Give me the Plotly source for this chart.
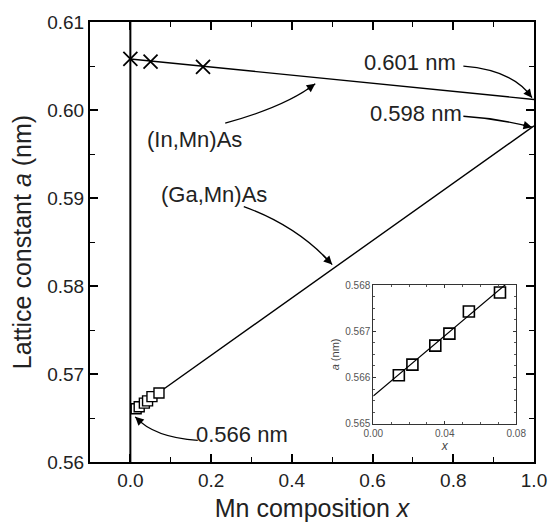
import plotly.graph_objects as go

# ---- data ----
in_x = [0.0, 0.05, 0.18]
in_y = [0.6058, 0.6055, 0.6049]
in_fit_x = [0.0, 1.0]
in_fit_y = [0.6058, 0.6012]

ga_x = [0.0143, 0.0219, 0.0347, 0.0426, 0.0535, 0.0709]
ga_y = [0.56605, 0.56628, 0.56669, 0.56695, 0.56743, 0.56784]
ga_fit_x = [0.0, 1.0]
ga_fit_y = [0.5656, 0.5982]

x_ticks = [0.0, 0.2, 0.4, 0.6, 0.8, 1.0]
y_ticks = [0.56, 0.57, 0.58, 0.59, 0.60, 0.61]
inset_x_ticks = [0.0, 0.04, 0.08]
inset_y_ticks = [0.565, 0.566, 0.567, 0.568]

FONT = "Liberation Sans, Arial, sans-serif"

fig = go.Figure()

# main plot
fig.add_trace(go.Scatter(x=in_fit_x, y=in_fit_y, mode="lines",
                         line=dict(color="black", width=1.4), showlegend=False))
fig.add_trace(go.Scatter(x=ga_fit_x, y=ga_fit_y, mode="lines",
                         line=dict(color="black", width=1.4), showlegend=False))
fig.add_trace(go.Scatter(x=in_x, y=in_y, mode="markers",
                         marker=dict(symbol="x-thin-open", size=14, color="black",
                                     line=dict(color="black", width=1.8)),
                         showlegend=False))
fig.add_trace(go.Scatter(x=ga_x, y=ga_y, mode="markers",
                         marker=dict(symbol="square", size=10, color="white",
                                     line=dict(color="black", width=1.4)),
                         showlegend=False))

# inset
fig.add_trace(go.Scatter(x=ga_fit_x, y=ga_fit_y, mode="lines", xaxis="x2", yaxis="y2",
                         line=dict(color="black", width=1.2), showlegend=False))
fig.add_trace(go.Scatter(x=ga_x, y=ga_y, mode="markers", xaxis="x2", yaxis="y2",
                         marker=dict(symbol="square-open", size=11, color="black",
                                     line=dict(color="black", width=1.6)),
                         showlegend=False))

axis_common = dict(showline=True, linecolor="black", linewidth=2, mirror="ticks",
                   ticks="inside", ticklen=8, tickwidth=1.6, tickcolor="black",
                   showgrid=False, zeroline=False,
                   tickfont=dict(family=FONT, size=19, color="#222"))

fig.update_layout(
    width=559, height=530,
    margin=dict(l=90, r=16, t=17, b=65),
    paper_bgcolor="white", plot_bgcolor="white",
    font=dict(family=FONT, color="#222"),
    xaxis=dict(range=[-0.1, 1.0], tickvals=x_ticks, tickformat=".1f",
               minor=dict(dtick=0.1, ticks="inside", ticklen=5, tickwidth=1.4, tickcolor="black"),
               title=dict(text="Mn composition <i>x</i>", font=dict(family=FONT, size=25, color="#222"),
                          standoff=10),
               **axis_common),
    yaxis=dict(range=[0.56, 0.61], tickvals=y_ticks, tickformat=".2f",
               minor=dict(dtick=0.005, ticks="inside", ticklen=5, tickwidth=1.4, tickcolor="black"),
               title=dict(text="Lattice constant <i>a</i> (nm)", font=dict(family=FONT, size=25, color="#222"),
                          standoff=8),
               **axis_common),
    xaxis2=dict(domain=[0.638, 0.960], anchor="y2", range=[0.0, 0.08],
                tickvals=inset_x_ticks, tickformat=".2f",
                showline=True, linecolor="#333", linewidth=1, mirror="ticks",
                ticks="inside", ticklen=3, tickwidth=1, tickcolor="#333",
                minor=dict(dtick=0.01, ticks="inside", ticklen=2, tickcolor="#555"),
                showgrid=False, zeroline=False,
                tickfont=dict(family=FONT, size=10, color="#555"),
                title=dict(text="<i>x</i>", font=dict(family=FONT, size=12, color="#444"), standoff=0)),
    yaxis2=dict(domain=[0.087, 0.402], anchor="x2", range=[0.565, 0.568],
                tickvals=inset_y_ticks, tickformat=".3f",
                showline=True, linecolor="#333", linewidth=1, mirror="ticks",
                ticks="inside", ticklen=3, tickwidth=1, tickcolor="#333",
                minor=dict(dtick=0.00025, ticks="inside", ticklen=2, tickcolor="#555"),
                showgrid=False, zeroline=False,
                tickfont=dict(family=FONT, size=10, color="#555"),
                title=dict(text="<i>a</i> (nm)", font=dict(family=FONT, size=11, color="#444"), standoff=3)),
)

# vertical line at x = 0
fig.add_shape(type="line", xref="x", yref="y domain", x0=0, x1=0, y0=0, y1=1,
              line=dict(color="black", width=2))

# text labels
labels = [
    ("0.601 nm", 0.692, 0.60542),
    ("0.598 nm", 0.708, 0.59962),
    ("(In,Mn)As", 0.158, 0.59661),
    ("(Ga,Mn)As", 0.206, 0.59036),
    ("0.566 nm", 0.276, 0.56313),
]
for t, lx, ly in labels:
    fig.add_annotation(x=lx, y=ly, xref="x", yref="y", text=t, showarrow=False,
                       font=dict(family=FONT, size=22, color="#222"))

# curved arrows: (start, control, end)
curves = [
    ((0.825, 0.60498), (0.949, 0.60453), (0.995, 0.60140)),
    ((0.825, 0.59929), (0.908, 0.59906), (0.995, 0.59805)),
    ((0.235, 0.59850), (0.386, 0.60040), (0.458, 0.60297)),
    ((0.281, 0.58902), (0.415, 0.58679), (0.500, 0.58243)),
    ((0.167, 0.56246), (0.058, 0.56279), (0.012, 0.56513)),
]
for p0, c, p1 in curves:
    fig.add_shape(type="path", xref="x", yref="y",
                  path=f"M {p0[0]},{p0[1]} Q {c[0]},{c[1]} {p1[0]},{p1[1]}",
                  line=dict(color="black", width=1.3))
    t = 0.85
    bx = (1 - t) ** 2 * p0[0] + 2 * (1 - t) * t * c[0] + t ** 2 * p1[0]
    by = (1 - t) ** 2 * p0[1] + 2 * (1 - t) * t * c[1] + t ** 2 * p1[1]
    fig.add_annotation(x=p1[0], y=p1[1], ax=bx, ay=by, xref="x", yref="y",
                       axref="x", ayref="y", text="", showarrow=True,
                       arrowhead=2, arrowsize=1.3, arrowwidth=1.3, arrowcolor="black",
                       standoff=0, startstandoff=0)

fig.write_html("out.html")
